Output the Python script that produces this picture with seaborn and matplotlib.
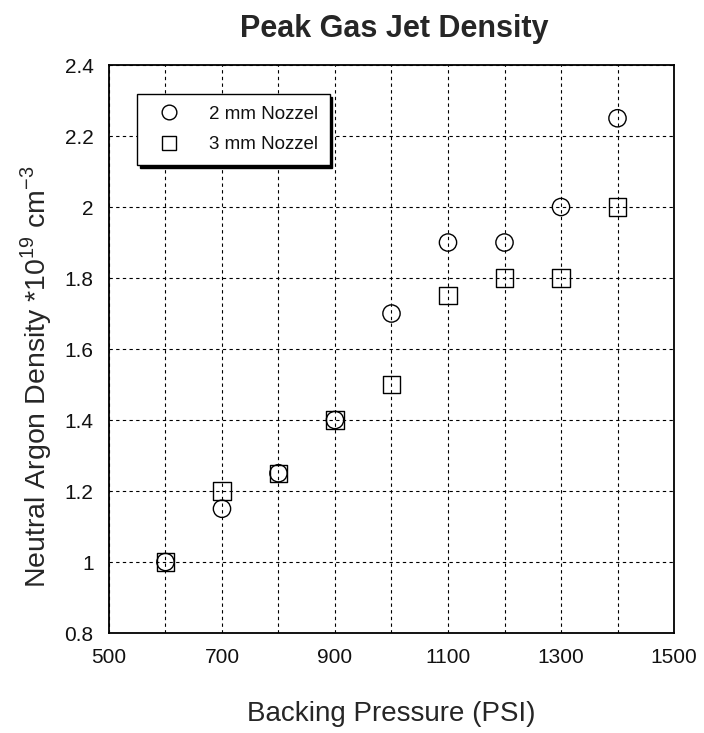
import matplotlib
matplotlib.use("Agg")
import matplotlib.pyplot as plt
import seaborn as sns
import pandas as pd

pressure = [600, 700, 800, 900, 1000, 1100, 1200, 1300, 1400]
density_2mm = [1.0, 1.15, 1.25, 1.4, 1.7, 1.9, 1.9, 2.0, 2.25]
density_3mm = [1.0, 1.2, 1.25, 1.4, 1.5, 1.75, 1.8, 1.8, 2.0]
series_names = ["2 mm Nozzel", "3 mm Nozzel"]

df = pd.concat([
    pd.DataFrame({"p": pressure, "d": density_2mm, "s": series_names[0]}),
    pd.DataFrame({"p": pressure, "d": density_3mm, "s": series_names[1]}),
])

sns.set_style("white")
plt.rcParams['font.family'] = ['Liberation Sans', 'DejaVu Sans']
plt.rcParams['mathtext.fontset'] = 'custom'
plt.rcParams['mathtext.rm'] = 'Liberation Sans'

fig = plt.figure(figsize=(7.04, 7.33), dpi=100)
ax = fig.add_axes([0.1548, 0.1364, 0.8026, 0.7749])

sns.scatterplot(data=df, x="p", y="d", style="s", markers=["o", "s"],
                s=155, facecolor="none", edgecolor="black", linewidth=1.0,
                color="black", ax=ax, zorder=3)

ax.set_xlim(500, 1500)
ax.set_ylim(0.8, 2.4)
xt = list(range(500, 1501, 100))
ax.set_xticks(xt)
ax.set_xticklabels([str(v) if (v - 500) % 200 == 0 else "" for v in xt])
yt = [0.8, 1.0, 1.2, 1.4, 1.6, 1.8, 2.0, 2.2, 2.4]
ax.set_yticks(yt)
ax.set_yticklabels(["0.8", "1", "1.2", "1.4", "1.6", "1.8", "2", "2.2", "2.4"])
ax.tick_params(axis="both", labelsize=15, length=0, colors="#111111")
ax.tick_params(axis="x", pad=11)
ax.tick_params(axis="y", pad=11)
ax.grid(True, color="black", linestyle=(0, (3, 3)), linewidth=0.8)
for sp in ax.spines.values():
    sp.set_color("black")
    sp.set_linewidth(1.3)

ax.set_title("Peak Gas Jet Density", fontsize=22, fontweight="bold", pad=20, x=0.504)
ax.set_xlabel("Backing Pressure (PSI)", fontsize=20)
ax.xaxis.set_label_coords(0.5, -0.12)
ax.set_ylabel("Neutral Argon Density *10$^{19}$ cm$^{-3}$", fontsize=20.5)
ax.yaxis.set_label_coords(-0.097, 0.452)

handles, labels = ax.get_legend_handles_labels()
for h in handles:
    h.set_markerfacecolor("none")
    h.set_markeredgecolor("black")
leg = ax.legend(handles, labels, loc="upper left", bbox_to_anchor=(0.05, 0.949),
                frameon=True, fancybox=False, shadow={"color": "black", "alpha": 1.0},
                edgecolor="black", framealpha=1, fontsize=13.5, borderpad=0.62,
                labelspacing=0.72, handletextpad=1.0, handlelength=2.2,
                borderaxespad=0, markerscale=0.85)
leg.get_frame().set_linewidth(1.0)
for t in leg.get_texts():
    t.set_color("#111111")

fig.savefig("out.png", dpi=100)
